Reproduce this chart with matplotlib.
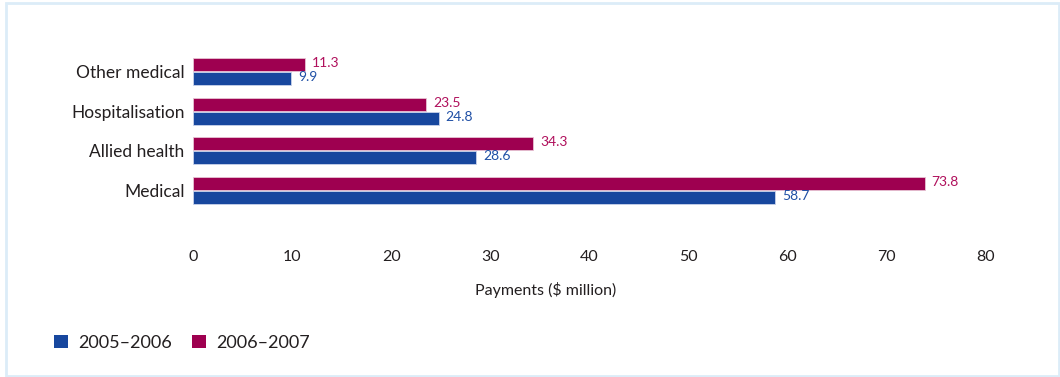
import matplotlib.pyplot as plt
import numpy as np
from matplotlib.patches import Patch, Rectangle

plt.rcParams["font.family"] = ["Lato", "DejaVu Sans"]

categories = ["Medical", "Allied health", "Hospitalisation", "Other medical"]
years = ["2005\u20132006", "2006\u20132007"]
pay_2005_06 = [58.7, 28.6, 24.8, 9.9]
pay_2006_07 = [73.8, 34.3, 23.5, 11.3]
x_ticks = [0, 10, 20, 30, 40, 50, 60, 70, 80]

BLUE = "#17479e"
MAGENTA = "#9e0050"
BLUE_TXT = "#1f4fa5"
MAGENTA_TXT = "#b0105c"
W, H = 1060, 377

fig = plt.figure(figsize=(W / 100, H / 100), dpi=100)
# axes box in pixel terms: left 193, right 986, top 48, bottom 214
ax = fig.add_axes([193 / W, 1 - 214 / H, (986 - 193) / W, (214 - 48) / H])

y = np.arange(len(categories))
h = 0.33
b1 = ax.barh(y - h / 2 - 0.01, pay_2005_06, height=h, color=BLUE,
             edgecolor="#c9d3ea", linewidth=0.6)
b2 = ax.barh(y + h / 2 + 0.01, pay_2006_07, height=h, color=MAGENTA,
             edgecolor="#e6c3d3", linewidth=0.6)

for bars, vals, col in ((b1, pay_2005_06, BLUE_TXT), (b2, pay_2006_07, MAGENTA_TXT)):
    for bar, v in zip(bars, vals):
        ax.annotate(f"{v:.1f}", (v, bar.get_y() + bar.get_height() / 2),
                    xytext=(5, 1), textcoords="offset points",
                    ha="left", va="center", fontsize=10, color=col)

ax.set_xlim(0, 80)
ax.set_ylim(-0.6, 3.6)
ax.set_yticks(y, categories)
ax.set_xticks(x_ticks)
ax.tick_params(axis="both", length=0, colors="#231f20")
ax.tick_params(axis="x", pad=26, labelsize=11.5)
ax.tick_params(axis="y", pad=6, labelsize=12.5)
for s in ax.spines.values():
    s.set_visible(False)

fig.text(546 / W, 1 - 290 / H, "Payments ($ million)", ha="center", va="center",
         fontsize=11.5, color="#231f20")

handles = [Patch(facecolor=BLUE, label=years[0]), Patch(facecolor=MAGENTA, label=years[1])]
fig.legend(handles=handles, ncol=2, loc="center left",
           bbox_to_anchor=(38 / W, 1 - 343 / H), frameon=False, fontsize=13,
           handlelength=0.75, handleheight=0.75, handletextpad=0.6,
           columnspacing=1.1, labelcolor="#231f20")

# light blue panel frame
fig.patches.append(Rectangle((6 / W, 1 / H), 1 - 7 / W, 1 - 4 / H,
                             transform=fig.transFigure, fill=False,
                             edgecolor="#dcecf8", linewidth=2))

fig.savefig("out.png", dpi=100)
